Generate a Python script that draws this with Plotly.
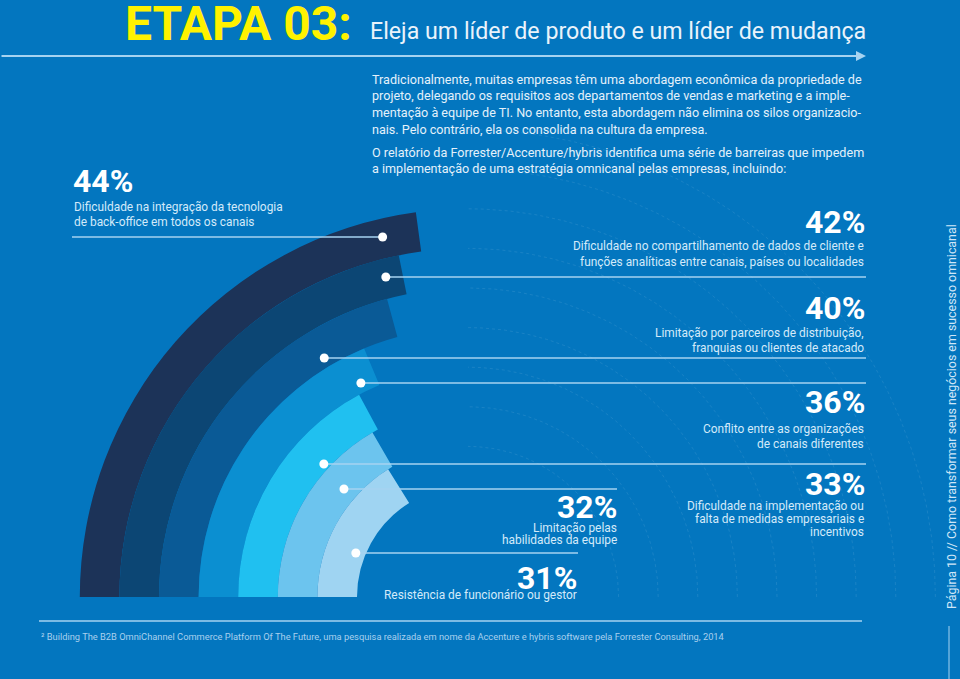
import math
import plotly.graph_objects as go

# ---------------- data ----------------
values = [44, 42, 40, 36, 33, 32, 31]          # outer -> inner band
labels = [
    ["Dificuldade na integração da tecnologia", "de back-office em todos os canais"],
    ["Dificuldade no compartilhamento de dados de cliente e",
     "funções analíticas entre canais, países ou localidades"],
    ["Limitação por parceiros de distribuição,", "franquias ou clientes de atacado"],
    ["Conflito entre as organizações", "de canais diferentes"],
    ["Dificuldade na implementação ou", "falta de medidas empresariais e", "incentivos"],
    ["Limitação pelas", "habilidades da equipe"],
    ["Resistência de funcionário ou gestor"],
]
title_main = "ETAPA 03:"
title_sub = "Eleja um líder de produto e um líder de mudança"
para1 = [
    "Tradicionalmente, muitas empresas têm uma abordagem econômica da propriedade de",
    "projeto, delegando os requisitos aos departamentos de vendas e marketing e a imple-",
    "mentação à equipe de TI. No entanto, esta abordagem não elimina os silos organizacio-",
    "nais. Pelo contrário, ela os consolida na cultura da empresa.",
]
para2 = [
    "O relatório da Forrester/Accenture/hybris identifica uma série de barreiras que impedem",
    "a implementação de uma estratégia omnicanal pelas empresas, incluindo:",
]
footnote = ("² Building The B2B OmniChannel Commerce Platform Of The Future, uma pesquisa realizada "
            "em nome da Accenture e hybris software pela Forrester Consulting, 2014")
side_text = "Página 10 // Como transformar seus negócios em sucesso omnicanal"

# ---------------- style / layout ----------------
W, H = 960, 679
BG = "#0376bf"
band_colors = ["#1c3358", "#0c4674", "#0a5a96", "#0b8fd1", "#20c0f0", "#6cc4ee", "#9fd4f2"]
FONT = "Roboto, Liberation Sans, sans-serif"
LINE_C = "#a6d3f1"
TXT_C = "#e4f1fb"
DESC_C = "#d3eafa"

CX, CY = 468, 597          # centre of the arcs (px)
R_AX = 460                 # radial axis max (px)
R_INNER = 111
BAND = 39.6
DEG_PER_PCT = 1.87

n = len(values)
bases = [R_INNER + (n - 1 - i) * BAND for i in range(n)]
sweeps = [v * DEG_PER_PCT for v in values]

fig = go.Figure()

# faint dotted concentric arcs (cartesian, below the bands)
for k in range(1, 10):
    r = R_INNER + k * BAND
    th = [i * 0.5 for i in range(0, 181)]
    xs, ys = [], []
    for t in th:
        x = CX + r * math.cos(math.radians(t))
        y = CY - r * math.sin(math.radians(t))
        if x <= W:
            xs.append(x); ys.append(y)
    fig.add_trace(go.Scatter(x=xs, y=ys, mode="lines", hoverinfo="skip", showlegend=False,
                             line=dict(color="rgba(255,255,255,0.09)", width=1, dash="dot")))

# bands
fig.add_trace(go.Barpolar(
    r=[BAND] * n, base=bases, theta=[s / 2 for s in sweeps], width=sweeps,
    marker=dict(color=band_colors, line=dict(width=0)),
    showlegend=False, hoverinfo="skip"))

fig.update_layout(
    width=W, height=H, margin=dict(l=0, r=0, t=0, b=0),
    paper_bgcolor=BG, plot_bgcolor="rgba(0,0,0,0)",
    xaxis=dict(range=[0, W], visible=False, domain=[0, 1], fixedrange=True),
    yaxis=dict(range=[H, 0], visible=False, domain=[0, 1], fixedrange=True),
    polar=dict(
        domain=dict(x=[(CX - R_AX) / W, (CX + R_AX) / W], y=[(H - CY) / H, (H - CY + R_AX) / H]),
        sector=[0, 180], bgcolor="rgba(0,0,0,0)", barmode="overlay",
        radialaxis=dict(range=[0, R_AX], visible=False),
        angularaxis=dict(visible=False, rotation=180, direction="clockwise"),
    ),
    showlegend=False,
)

shapes, ann = [], []

def txt(x, y, s, size, color=TXT_C, anchor="left", bold=False, family=FONT, angle=0):
    ann.append(dict(x=x, y=y, xref="x", yref="y", text=f"<b>{s}</b>" if bold else s,
                    showarrow=False, xanchor=anchor, yanchor="middle", textangle=angle,
                    font=dict(family=family, size=size, color=color)))

# title
txt(123, 23, title_main, 48, color="#fff200", bold=True)
txt(368, 31, title_sub, 23.2, color="#eaf3fb")
ann.append(dict(x=866, y=56, ax=0, ay=56, xref="x", yref="y", axref="x", ayref="y", text="",
                showarrow=True, arrowhead=2, arrowsize=1, arrowwidth=2, arrowcolor=LINE_C))

for i, s in enumerate(para1):
    txt(370, 79 + i * 16.7, s, 12.6)
for i, s in enumerate(para2):
    txt(370, 152 + i * 16.5, s, 12.6)

# leader lines & dots
dot_y = [237, 277, 358, 383, 464, 489, 553]
dot_frac = [0.54, 0.54, 0.24, 0.24, 0.15, 0.35, 0.24]
line_end = [72, 866, 866, 866, 866, 617, 578]
for i in range(n):
    r = bases[i] + dot_frac[i] * BAND
    dx = CX - math.sqrt(r * r - (CY - dot_y[i]) ** 2)
    shapes.append(dict(type="line", xref="x", yref="y", x0=dx, x1=line_end[i], y0=dot_y[i], y1=dot_y[i],
                       line=dict(color=LINE_C, width=1.6), layer="above"))
    shapes.append(dict(type="circle", xref="x", yref="y", x0=dx - 4.5, x1=dx + 4.5,
                       y0=dot_y[i] - 4.5, y1=dot_y[i] + 4.5, fillcolor="white",
                       line=dict(width=0), layer="above"))

# percentage labels and descriptions
PCT = 32
DESC = 11.9
txt(71, 181, f"{values[0]}%", PCT, color="white", bold=True)
for j, s in enumerate(labels[0]):
    txt(72, 207 + j * 15, s, DESC, color=DESC_C)
pct_pos = [None, (867, 222), (867, 308), (867, 402), (867, 484), (619, 507), (579, 578)]
desc_pos = [None, (866, [246, 262]), (866, [333, 348]), (866, [429, 444]),
            (866, [506, 519, 532]), (619, [528, 540]), (579, [595])]
for i in range(1, n):
    px, py = pct_pos[i]
    txt(px, py, f"{values[i]}%", PCT, color="white", bold=True, anchor="right")
    dxp, dys = desc_pos[i]
    for s, yy in zip(labels[i], dys):
        txt(dxp, yy, s, DESC, color=DESC_C, anchor="right")

# bottom rule & footnote
shapes.append(dict(type="line", xref="x", yref="y", x0=39, x1=862, y0=621, y1=621,
                   line=dict(color=LINE_C, width=1.5), layer="above"))
txt(39, 636, footnote, 9.3, color="#a9d0ee")
# side text
txt(951, 417, side_text, 12.4, color="#cfe6f8", anchor="center", angle=-90)
shapes.append(dict(type="line", xref="x", yref="y", x0=949, x1=949, y0=626, y1=679,
                   line=dict(color=LINE_C, width=1), layer="above"))

fig.update_layout(shapes=shapes, annotations=ann)
fig.write_html("out.html", config={"displayModeBar": False},
               post_script="document.body.style.margin='0px';")
